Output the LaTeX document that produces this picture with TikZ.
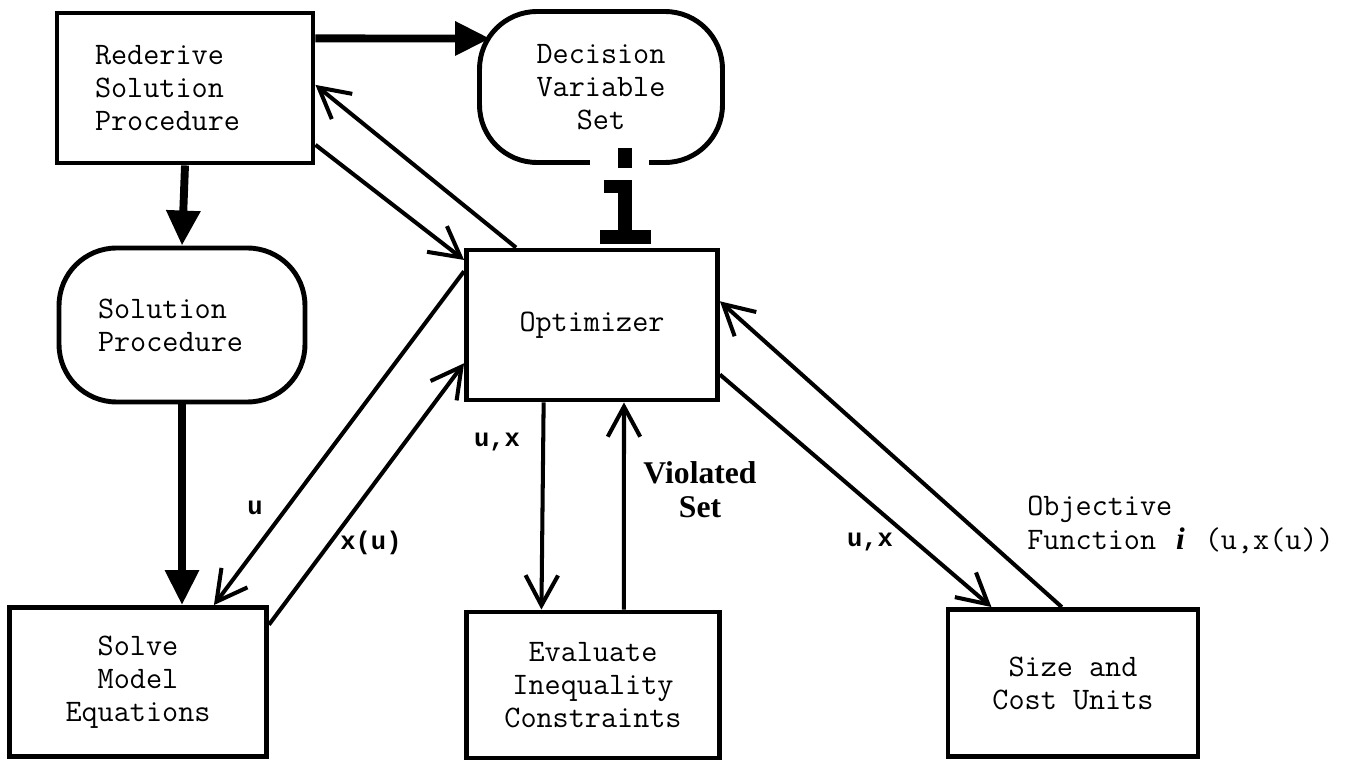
\documentclass[tikz,border=0pt]{standalone}
\usepackage{fontspec}
\setmainfont{Liberation Serif}
\newfontfamily\tagmono{Liberation Mono}
\usetikzlibrary{arrows.meta, calc}
\newcommand{\boxfont}{\ttfamily\fontsize{17.8pt}{18.8pt}\selectfont}
\newcommand{\tagfont}{\tagmono\bfseries\fontsize{14.5pt}{17pt}\selectfont}
\tikzset{
x=0.02cm, y=-0.02cm, % one unit is one pixel of the scan
block/.style={draw, line width=2.8pt, font=\boxfont, align=center}, % square boxes
terminal/.style={block, rounded corners=1.15cm}, % rounded boxes
flow/.style={line width=2.3pt, -{Straight Barb[length=0.6cm, width=0.65cm]}}, % thin arrows
heavy/.style={line width=4.5pt, -{Triangle[length=0.7cm, width=0.65cm]}}, % thick arrows
tag/.style={font=\tagfont}, % labels on the arrows
}

\begin{document}
\begin{tikzpicture}
    \useasboundingbox (0,0) rectangle (1353,763);
    \node[block, minimum width=5.12cm, minimum height=3cm, align=left, text width=3.6cm] (rederive) at (185,88) {Rederive\\Solution\\Procedure};
    \node[terminal, minimum width=4.86cm, minimum height=3.02cm] (decision) at (601,87) {Decision\\Variable\\Set};
    \node[terminal, minimum width=4.92cm, minimum height=3.08cm, align=left, text width=3.36cm] (solution) at (182,325) {Solution\\Procedure};
    \node[block, minimum width=5.02cm, minimum height=3cm] (optimizer) at (592,325) {Optimizer};
    \node[block, minimum width=5.14cm, minimum height=2.98cm] (solve) at (138,682) {Solve\\Model\\Equations};
    \node[block, minimum width=5.06cm, minimum height=2.92cm] (evaluate) at (593,685) {Evaluate\\Inequality\\Constraints};
    \node[block, minimum width=5cm, minimum height=2.94cm] (size) at (1073,683) {Size and\\Cost Units};

    \fill[white] (590,156) rectangle (649,170);
    \fill (618,148) rectangle (632,168);
    \fill (604,180) rectangle (632,193);
    \fill (618,180) rectangle (632,233);
    \fill (600,230) rectangle (651,244);

    \node[tag] (u) at (255,508) {u};
    \node[tag] (xu) at (371,543) {x(u)};
    \node[tag] (uxleft) at (497,442) {u,x};
    \node[tag] (uxright) at (870,542) {u,x};
    \node[font=\rmfamily\bfseries\fontsize{18pt}{19.3pt}\selectfont, align=center] (violated) at (700,490) {Violated\\Set};
    \node[font=\ttfamily\fontsize{17.8pt}{19.3pt}\selectfont, align=left, anchor=west, inner sep=0pt] (objective) at (1027,525) {Objective\\Function {\rmfamily\bfseries\itshape\makebox[9.35pt]{i}} (u,x(u))};

    \draw[heavy] ($(rederive.north east)!.18!(rederive.south east)$) -- ([xshift=.26cm]$(decision.north west)!.189!(decision.south west)$);
    \draw[heavy] (rederive.south) -- (solution.north);
    \draw[heavy] (solution.south) -- (solution.south |- solve.north);
    \draw[flow] ($(optimizer.north west)!.203!(optimizer.north east)$) -- ($(rederive.north east)!.48!(rederive.south east)$);
    \draw[flow] ($(rederive.north east)!.867!(rederive.south east)$) -- ($(optimizer.north west)!.08!(optimizer.south west)$);
    \draw[flow] ($(optimizer.north west)!.153!(optimizer.south west)$) -- ($(solve.north west)!.79!(solve.north east)$);
    \draw[flow] ($(solve.north east)!.128!(solve.south east)$) -- ($(optimizer.north west)!.747!(optimizer.south west)$);
    \draw[flow] ($(optimizer.south west)!.311!(optimizer.south east)$) -- ($(evaluate.north west)!.30!(evaluate.north east)$);
    \draw[flow] ($(evaluate.north west)!.62!(evaluate.north east)$) -- ($(optimizer.south west)!.625!(optimizer.south east)$);
    \draw[flow] ($(optimizer.north east)!.82!(optimizer.south east)$) -- ($(size.north west)!.18!(size.north east)$);
    \draw[flow] ($(size.north west)!.456!(size.north east)$) -- ($(optimizer.north east)!.347!(optimizer.south east)$);
\end{tikzpicture}
\end{document}
